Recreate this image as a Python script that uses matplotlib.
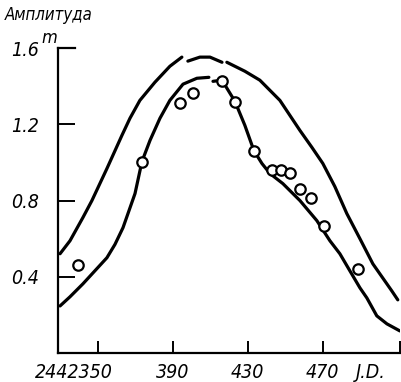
import matplotlib.pyplot as plt
import matplotlib.transforms as mtransforms
import numpy as np

plt.rcParams['font.family'] = ['DejaVu Sans']
plt.rcParams['font.stretch'] = 'condensed'

# наблюдения (J.D. - 2440000, амплитуда)
obs_jd = [2339.4, 2373.5, 2393.8, 2400.5, 2416.2, 2423.1, 2433.2,
          2442.8, 2447.6, 2452.4, 2457.8, 2463.6, 2470.6, 2488.7]
obs_amp = [0.463, 1.005, 1.31, 1.366, 1.43, 1.318, 1.062,
           0.958, 0.958, 0.947, 0.863, 0.816, 0.668, 0.442]

# верхняя кривая (nan = разрыв линии)
up_jd = [2329.8, 2335.1, 2342.0, 2346.8, 2354.8, 2362.8, 2367.1, 2372.4, 2380.4, 2388.4, 2394.8, np.nan,
         2398.0, 2404.4, 2409.8, 2416.2, np.nan,
         2418.8, 2428.4, 2436.4, 2447.1, 2457.8, 2464.2, 2470.0, 2476.4, 2482.8, 2489.8,
         2496.7, 2506.8, 2510.0]
up_amp = [0.521, 0.589, 0.711, 0.80, 0.968, 1.142, 1.232, 1.326, 1.421, 1.505, 1.553, np.nan,
          1.532, 1.553, 1.553, 1.526, np.nan,
          1.526, 1.479, 1.432, 1.326, 1.168, 1.079, 0.995, 0.874, 0.732, 0.60,
          0.468, 0.326, 0.279]

# нижняя кривая
lo_jd = [2329.8, 2335.1, 2342.0, 2354.8, 2359.1, 2363.4, 2369.8, 2373.5, 2377.8,
         2383.1, 2388.4, 2395.4, 2402.8, 2409.2, np.nan,
         2411.4, 2416.2, 2423.1, 2428.4, 2433.2, 2437.5, 2441.8, 2448.7, 2457.8, 2466.8,
         2473.8, 2479.1, 2484.4, 2489.8, 2493.5, 2498.8, 2504.2, 2511.1]
lo_amp = [0.247, 0.295, 0.363, 0.50, 0.57, 0.658, 0.837, 1.005, 1.116,
          1.232, 1.326, 1.411, 1.442, 1.447, np.nan,
          1.426, 1.432, 1.321, 1.195, 1.063, 0.995, 0.942, 0.889, 0.80, 0.695,
          0.589, 0.521, 0.432, 0.342, 0.289, 0.195, 0.153, 0.116]

xticks = [2350, 2390, 2430, 2470, 2511]
xlabels = ['2442350', '390', '430', '470', '']
yticks = [0.4, 0.8, 1.2]
ylabels = ['0.4', '0.8', '1.2']

fig = plt.figure(figsize=(4.01, 3.82), dpi=100)
ax = fig.add_axes([0.1446, 0.0759, 0.853, 0.798])

ax.plot(up_jd, up_amp, color='black', lw=2.3, solid_capstyle='round', solid_joinstyle='round')
ax.plot(lo_jd, lo_amp, color='black', lw=2.3, solid_capstyle='round', solid_joinstyle='round')
ax.plot(obs_jd, obs_amp, 'o', ms=7.5, mfc='white', mec='black', mew=1.6, zorder=5)

ax.set_xlim(2328.7, 2511.2)
ax.set_ylim(0, 1.6)
ax.spines['top'].set_visible(False)
ax.spines['right'].set_visible(False)
ax.spines['left'].set_linewidth(1.6)
ax.spines['bottom'].set_linewidth(1.6)
ax.axhline(1.6, xmin=0, xmax=0.05, color='black', lw=1.6, clip_on=False)

ax.set_xticks(xticks)
ax.set_xticklabels(xlabels, fontsize=14, style='italic')
ax.set_yticks(yticks)
ax.set_yticklabels(ylabels, fontsize=14, style='italic')
ax.tick_params(axis='x', direction='in', length=9, width=1.4, pad=7)
ax.tick_params(axis='y', direction='in', length=12, width=1.4, pad=14)

# первая подпись сдвинута влево, как в оригинале
lbl = ax.get_xticklabels()[0]
lbl.set_transform(lbl.get_transform() + mtransforms.ScaledTranslation(-0.24, 0, fig.dpi_scale_trans))

fig.text(0.028, 0.869, '1.6', fontsize=14, style='italic', va='center')
fig.text(0.103, 0.9, 'm', fontsize=13, style='italic', va='center')
fig.text(0.012, 0.96, 'Амплитуда', fontsize=12, style='italic', va='center')
fig.text(0.888, 0.026, 'J.D.', fontsize=14, style='italic', va='center')

fig.savefig('out.png', dpi=100)
